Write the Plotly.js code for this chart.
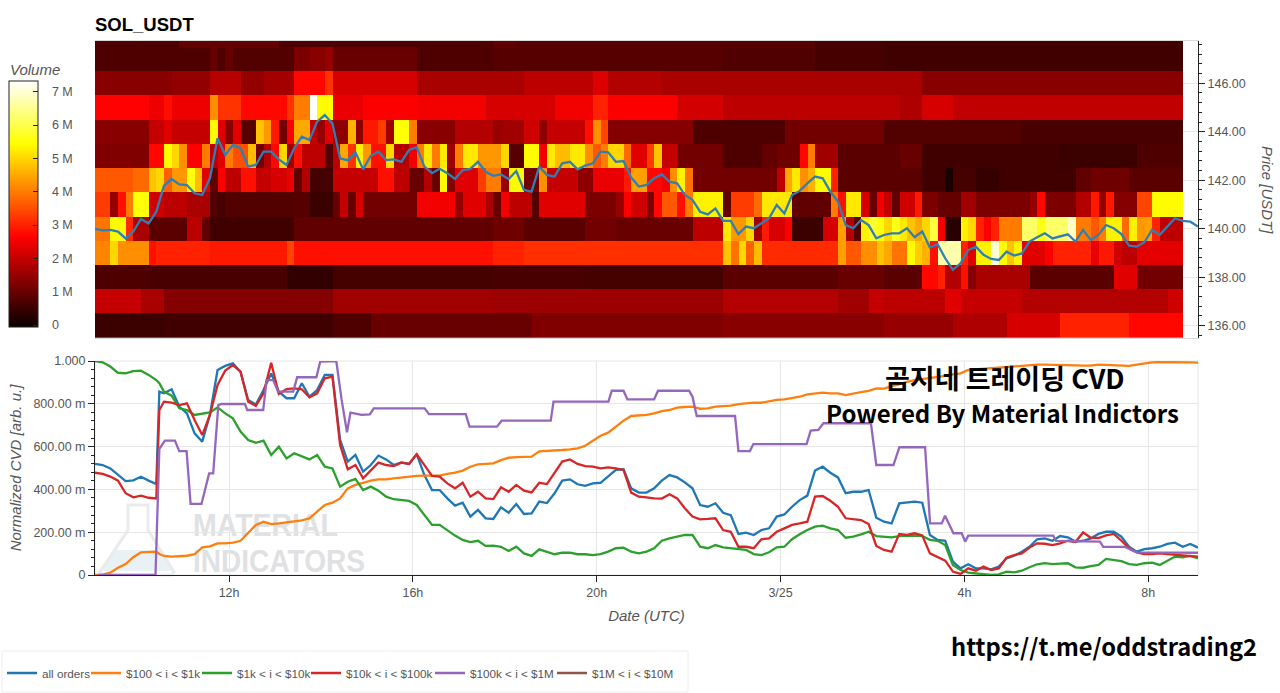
<!DOCTYPE html>
<html><head><meta charset="utf-8">
<script src="https://cdn.plot.ly/plotly-3.0.1.min.js"></script>
<style>html,body{margin:0;padding:0;background:#fff;overflow:hidden}#c{width:1280px;height:693px}</style>
</head><body><div id="c"></div>
<script>
// ---- axis labels ----
const axisDates=['2025-03-24 12:00','2025-03-24 16:00','2025-03-24 20:00','2025-03-25 00:00','2025-03-25 04:00','2025-03-25 08:00'];
const axisDateLabels=['12h','16h','20h','3/25','4h','8h'];
const cvdTicks=[0,0.2,0.4,0.6,0.8,1];
const cvdTickLabels=['0','200.00 m','400.00 m','600.00 m','800.00 m','1.000'];
const priceTicks=[136,138,140,142,144,146];
const priceTickLabels=['136.00','138.00','140.00','142.00','144.00','146.00'];
const volTicks=[0,1,2,3,4,5,6,7];
const volTickLabels=['0','1 M','2 M','3 M','4 M','5 M','6 M','7 M'];
const seriesNames=['all orders','$100 < i < $1k','$1k < i < $10k','$10k < i < $100k','$100k < i < $1M','$1M < i < $10M'];

// ---- heatmap: volume in millions, as [first 10-minute column, value] runs, one list per price level ----
const vol148=[[0,.7],[11,.95],[24,.7],[52,.9],[55,.8],[94,.62],[103,.55]];
const vol147=[[0,.7],[15,.95],[16,.7],[17,.95],[18,.75],[26,1.2],[28,1.35],[30,1.5],[31,1.0],[42,.7],[52,.8],[82,.72],[94,.62],[103,.55]];
const vol146=[[0,1.35],[10,1.45],[15,1.85],[19,1.45],[22,1.65],[26,2.7],[30,3.2],[31,2.2],[42,1.7],[56,1.9],[65,2.25],[67,1.8],[74,1.7],[108,1.35]];
const vol145=[[0,2.65],[7,2.45],[9,2.75],[10,2.45],[15,4.2],[16,3.2],[19,2.7],[25,3.2],[26,4.0],[28,7.3],[29,5.4],[31,2.4],[35,2.6],[42,2.5],[51,2.2],[60,2.5],[65,3.0],[67,2.6],[76,2.15],[82,1.9],[105,1.75],[108,2.2],[112,1.95]];
const vol144=[[0,1.35],[7,2.0],[9,2.3],[10,2.0],[15,5.4],[16,2.3],[17,1.35],[18,2.3],[19,.8],[21,4.8],[22,4.3],[23,2.9],[24,1.1],[25,2.6],[26,4.5],[28,2.0],[29,1.5],[30,2.3],[31,1.4],[33,4.6],[34,1.4],[35,2.9],[37,3.3],[38,1.6],[39,5.5],[41,4.0],[42,1.35],[47,1.8],[52,1.5],[53,1.6],[56,2.1],[58,1.4],[59,2.0],[64,2.8],[65,4.2],[66,3.4],[67,1.3],[78,.7],[90,1.1],[103,.75],[121,.65]];
const vol143=[[0,1.25],[7,2.7],[9,5.4],[10,5.0],[11,4.2],[12,2.6],[14,4.0],[15,1.9],[16,2.3],[17,4.0],[18,3.5],[20,4.7],[21,1.1],[22,1.8],[23,2.7],[24,5.0],[25,1.6],[26,2.8],[27,1.9],[30,.75],[31,1.9],[32,4.5],[33,3.2],[34,5.3],[35,4.3],[36,2.8],[38,5.0],[39,1.8],[41,2.5],[42,4.0],[43,5.2],[44,4.0],[45,5.2],[46,1.6],[47,4.0],[48,5.2],[50,4.3],[53,5.0],[54,.8],[56,5.4],[58,2.5],[59,5.2],[60,4.7],[62,5.2],[64,4.2],[65,3.6],[66,4.0],[67,5.0],[69,3.8],[70,2.3],[72,3.3],[73,4.8],[74,2.0],[76,1.1],[82,.7],[87,.95],[89,1.05],[92,2.7],[93,4.0],[94,1.6],[97,.85],[105,1.0],[108,.55],[126,.5],[136,.7]];
const vol142=[[0,3.6],[5,3.8],[7,4.8],[8,5.0],[9,3.7],[10,4.3],[12,5.5],[13,4.7],[14,2.3],[15,.9],[16,2.6],[17,1.9],[19,2.8],[21,2.0],[23,2.2],[25,2.4],[26,.9],[27,1.8],[28,.6],[31,2.0],[37,2.8],[39,1.9],[41,1.0],[43,1.8],[44,1.0],[45,5.4],[46,1.3],[47,2.3],[50,3.3],[51,4.0],[53,1.5],[54,5.4],[56,1.1],[58,4.2],[59,2.0],[63,1.4],[65,2.4],[69,2.9],[70,4.4],[72,2.7],[74,2.5],[75,4.2],[76,5.3],[77,3.9],[78,1.1],[89,1.9],[90,4.5],[91,5.2],[92,4.2],[93,4.6],[94,5.4],[96,3.0],[97,.85],[108,.55],[111,.15],[112,.6],[115,.45],[118,.55],[128,.9],[130,1.05],[135,.85]];
const vol141=[[0,3.3],[2,1.5],[3,2.8],[4,4.0],[5,5.5],[7,2.1],[9,1.9],[12,1.7],[15,.75],[16,.6],[17,.75],[26,.8],[28,.5],[31,1.0],[32,2.0],[33,1.0],[34,2.2],[35,1.1],[42,2.5],[47,1.5],[48,2.3],[51,1.7],[52,1.0],[53,2.5],[54,1.9],[57,.8],[58,2.3],[64,1.2],[68,1.5],[69,2.6],[70,2.1],[72,1.2],[73,2.7],[74,3.6],[76,2.8],[77,4.0],[78,5.3],[82,.9],[83,3.3],[86,3.8],[87,5.2],[91,.9],[96,4.0],[97,2.8],[98,5.2],[100,2.2],[101,1.0],[102,2.5],[103,2.0],[104,.9],[105,2.1],[107,2.9],[108,1.2],[110,.95],[113,1.6],[115,1.2],[122,1.5],[123,2.7],[124,1.2],[128,1.8],[130,2.9],[131,1.5],[132,2.9],[133,1.3],[136,3.4],[138,5.4]];
const vol140=[[0,3.9],[2,5.4],[4,3.1],[5,1.7],[7,.85],[12,1.9],[14,.9],[15,.55],[26,.9],[52,1.05],[56,.85],[64,1.1],[68,1.0],[78,1.9],[82,5.2],[83,4.3],[85,5.0],[86,1.6],[87,2.9],[88,2.2],[90,2.6],[91,.5],[95,2.2],[97,4.4],[98,1.8],[99,.8],[100,5.3],[101,5.8],[102,5.5],[103,5.0],[104,5.6],[105,5.2],[106,4.8],[107,4.5],[108,5.0],[109,5.9],[110,2.5],[111,.3],[113,5.3],[114,5.0],[115,3.0],[116,2.6],[117,3.0],[118,4.0],[121,6.2],[123,5.6],[124,6.2],[127,6.9],[128,4.0],[130,3.6],[131,4.0],[132,5.3],[134,3.8],[135,5.3],[136,4.3],[137,4.4],[138,3.0],[139,1.9]];
const vol139=[[0,4.1],[2,5.0],[3,4.2],[7,2.8],[8,3.0],[15,2.9],[25,3.4],[26,2.8],[52,3.0],[56,3.15],[82,4.8],[83,3.9],[84,5.0],[85,3.7],[86,4.7],[87,3.1],[97,4.4],[98,3.6],[100,4.2],[102,4.8],[103,4.5],[104,3.9],[106,5.4],[107,4.9],[108,4.6],[109,2.8],[110,6.7],[113,3.0],[114,2.3],[115,5.3],[117,7.0],[118,5.4],[119,4.8],[120,5.3],[121,2.3],[124,2.6],[125,3.0],[130,2.4],[131,2.9],[133,2.1],[134,1.9],[136,2.35]];
const vol138=[[0,.7],[7,.65],[25,.4],[31,.6],[52,.65],[64,.6],[82,.85],[97,1.0],[103,.85],[108,2.7],[110,3.0],[111,1.8],[113,2.8],[114,1.3],[115,1.7],[122,.85],[133,2.3],[136,1.1]];
const vol137=[[0,2.0],[6,1.7],[9,1.3],[31,1.6],[52,1.55],[82,1.8],[97,1.6],[101,2.0],[103,1.9],[111,2.3],[113,2.0],[121,1.8],[140,2.1]];
const vol136=[[0,.5],[9,.55],[31,.7],[36,1.0],[57,1.25],[82,1.35],[103,1.5],[112,1.75],[119,2.2],[126,3.0],[135,2.7]];
const priceLevels=[136,137,138,139,140,141,142,143,144,145,146,147,148];

// ---- price line, every 10 minutes from 09:05 ----
const price=[139.99,139.93,139.95,139.88,139.60,139.88,140.40,140.22,140.70,141.78,
142.05,141.83,141.80,141.46,141.39,142.08,143.73,143.04,143.46,143.32,
142.56,142.63,143.18,143.18,142.86,142.63,143.32,143.80,143.66,144.42,
144.69,144.34,142.90,142.83,143.15,142.45,143.01,143.18,142.83,142.86,
142.76,143.25,143.36,142.56,142.29,142.47,142.29,142.05,142.42,142.47,
142.76,142.35,142.18,142.24,142.05,142.38,141.60,141.53,142.56,142.22,
142.15,142.70,142.76,142.45,142.60,142.70,143.18,143.15,142.76,142.79,
142.11,141.74,141.81,142.08,142.24,141.94,141.87,141.39,141.19,140.70,
140.59,140.84,140.32,140.32,139.78,140.09,140.02,140.22,140.43,140.98,
140.63,141.39,141.56,141.87,142.15,142.08,141.53,141.12,140.15,140.02,
140.36,140.15,139.60,139.74,139.81,139.81,140.02,139.65,139.88,139.22,
139.36,138.78,138.30,138.57,139.12,139.26,138.92,138.75,138.71,139.05,
138.89,138.98,139.47,139.65,139.81,139.60,139.70,139.77,139.47,139.95,
139.54,139.74,140.15,140.02,139.78,139.30,139.26,139.44,139.95,139.74,
140.09,140.43,140.32,140.29,140.09];

// ---- CVD series: slot numbers in tens of minutes from 09:05 ----
const cvdSlots=[0,1,2,3,4,5,6,7,8,8.4];
for(let s=9;s<=144;s++)cvdSlots.push(s);
const allOrders=[.519,.514,.498,.467,.439,.442,.459,.441,.425,.857,
.849,.868,.787,.755,.662,.623,.748,.958,.977,.989,
.950,.818,.797,.864,.942,.857,.826,.826,.896,.833,
.864,.935,.935,.631,.53,.561,.483,.514,.558,.54,
.514,.526,.519,.565,.467,.397,.397,.358,.324,.338,
.273,.304,.265,.262,.316,.291,.332,.285,.288,.343,
.336,.382,.441,.447,.424,.417,.428,.431,.46,.491,
.494,.405,.385,.385,.405,.441,.467,.456,.433,.405,
.327,.319,.335,.291,.28,.192,.198,.187,.21,.218,
.273,.283,.319,.35,.371,.488,.506,.478,.456,.382,
.389,.389,.397,.268,.249,.241,.335,.338,.343,.338,
.187,.164,.16,.062,.031,.05,.031,.031,.026,.039,
.078,.09,.109,.132,.167,.171,.16,.182,.176,.156,
.16,.171,.192,.202,.202,.179,.132,.109,.121,.125,
.132,.145,.151,.132,.145,.128];
const range100to1k=[0,.002,.011,.034,.051,.083,.106,.109,.109,.098,
.089,.086,.087,.09,.097,.129,.134,.148,.148,.151,
.16,.195,.234,.249,.238,.241,.246,.251,.255,.265,
.296,.327,.338,.358,.405,.421,.431,.441,.447,.447,
.452,.456,.46,.463,.464,.463,.464,.472,.478,.488,
.506,.517,.519,.522,.537,.548,.551,.553,.553,.578,
.579,.581,.584,.587,.592,.604,.628,.651,.665,.693,
.721,.743,.746,.748,.755,.766,.771,.782,.785,.787,
.777,.779,.787,.79,.791,.798,.802,.805,.805,.813,
.818,.821,.826,.833,.844,.849,.852,.849,.849,.841,
.849,.854,.86,.872,.871,.883,.891,.903,.911,.916,
.919,.924,.93,.938,.942,.958,.961,.964,.967,.969,
.974,.977,.978,.98,.983,.983,.983,.983,.981,.98,
.978,.978,.983,.981,.978,.977,.977,.983,.989,.994,
.995,.995,.997,.997,.994,.992];
const range1kto10k=[1.0,.994,.974,.945,.942,.953,.955,.935,.911,.896,
.857,.838,.779,.771,.748,.755,.76,.783,.755,.732,
.67,.631,.618,.628,.561,.6,.545,.569,.553,.54,
.561,.506,.498,.413,.436,.449,.397,.413,.394,.366,
.354,.35,.346,.327,.28,.234,.234,.207,.184,.164,
.154,.16,.136,.137,.132,.112,.132,.101,.089,.12,
.109,.097,.104,.104,.097,.097,.093,.098,.109,.125,
.128,.109,.101,.109,.125,.16,.171,.179,.187,.187,
.132,.125,.14,.129,.125,.12,.117,.098,.093,.106,
.129,.132,.167,.19,.21,.226,.231,.218,.21,.174,
.179,.19,.202,.182,.178,.176,.182,.184,.184,.182,
.164,.16,.14,.047,.023,.011,.008,.003,0,.003,
.016,.012,.02,.036,.05,.055,.051,.053,.055,.036,
.034,.042,.047,.075,.07,.065,.051,.047,.055,.058,
.047,.067,.086,.083,.089,.078];
const range10kto100k=[.478,.472,.46,.441,.382,.363,.371,.361,.358,.771,
.81,.805,.794,.802,.724,.654,.748,.888,.955,.981,
.95,.81,.79,.849,.992,.846,.869,.872,.868,.83,
.849,.919,.927,.607,.494,.514,.452,.491,.525,.514,
.509,.525,.519,.565,.514,.463,.46,.428,.405,.431,
.366,.389,.358,.355,.41,.389,.421,.394,.386,.431,
.425,.475,.53,.54,.519,.509,.506,.498,.503,.498,
.491,.385,.366,.363,.358,.357,.377,.358,.312,.273,
.26,.262,.265,.21,.202,.132,.132,.125,.167,.171,
.202,.218,.234,.241,.249,.366,.369,.347,.319,.265,
.26,.257,.238,.136,.117,.109,.192,.187,.195,.185,
.101,.083,.067,.016,.005,.031,.02,.039,.023,.031,
.081,.093,.101,.128,.148,.146,.14,.148,.16,.154,
.199,.174,.173,.185,.192,.16,.125,.106,.098,.098,
.101,.098,.095,.095,.09,.086];
// step-like series, read at its own corners
const slots100kto1M=[.4,7.9,8.4,9.13,10.43,11,11.96,12.48,13.9,14.9,15.43,16.1,16.5,19.57,19.87,21.96,22.4,23.26,23.9,25.87,26.4,28.9,29.4,31.5,32.2,32.9,33.35,34.8,35.87,36.4,43.04,43.6,48.4,48.9,52.47,53.1,59.5,59.86,67.03,67.47,69,69.5,73,73.5,77.56,78,78.56,83.56,84,85.5,85.95,92.9,93.43,94.43,95.1,101.3,102,104.24,105.02,108.37,109.02,110.54,110.98,112.07,113.15,113.6,114,125.1,125.46,131.2,131.63,134.46,136,144];
const range100kto1M=[0,0,.589,.628,.628,.579,.579,.332,.332,.475,.475,.794,.799,.799,.771,.771,.911,.911,.857,.857,.924,.924,.997,1.0,.818,.667,.759,.748,.751,.779,.779,.752,.752,.693,.693,.721,.721,.81,.81,.861,.861,.821,.821,.861,.861,.833,.743,.743,.579,.579,.612,.612,.675,.678,.709,.709,.514,.514,.597,.597,.241,.241,.277,.195,.195,.156,.184,.184,.159,.156,.131,.131,.106,.104];

// ---- helpers: turn the lists above into what the traces need ----
const NCOLS=142;
function expand(runs){const out=[];for(let k=0;k<runs.length;k++){const end=k+1<runs.length?runs[k+1][0]:NCOLS;for(let c=runs[k][0];c<end;c++)out.push(runs[k][1]);}return out;}
function dateAt(minutes){return new Date(Date.UTC(2025,2,24,9,5)+minutes*60000).toISOString().replace('T',' ').slice(0,19);}
const slotDates=a=>a.map(s=>dateAt(s*10));
const columnDates=[];for(let c=0;c<NCOLS;c++)columnDates.push(dateAt(10*c+5));
const priceDates=price.map((_,i)=>dateAt(i*10));
const volume=[vol136,vol137,vol138,vol139,vol140,vol141,vol142,vol143,vol144,vol145,vol146,vol147,vol148].map(expand);
const start=dateAt(0),stop=dateAt(1440);

const colors=['#1f77b4','#ff7f0e','#2ca02c','#d62728','#9467bd','#8c564b'];
const W=1280,H=693,px=x=>x/W,py=y=>1-y/H;
const sans='"Liberation Sans",Arial,sans-serif';
const hot=[[0,'rgb(8,0,0)'],[0.365,'rgb(255,0,0)'],[0.746,'rgb(255,255,0)'],[1,'rgb(255,255,255)']];
const lineW=2.3;

const traces=[
 {type:'heatmap',x:columnDates,y:priceLevels,z:volume,xaxis:'x',yaxis:'y',zmin:-0.06,zmax:7.32,colorscale:hot,zsmooth:false,showscale:true,hoverinfo:'skip',
  colorbar:{thicknessmode:'pixels',thickness:29,lenmode:'pixels',len:246,x:px(9),xanchor:'left',xpad:0,y:py(327),yanchor:'bottom',ypad:0,
   outlinecolor:'#222',outlinewidth:1,ticks:'inside',ticklen:5,tickcolor:'#222',tickvals:volTicks,ticktext:volTickLabels.map(t=>'\u00a0\u00a0\u00a0'+t),tickfont:{family:sans,size:12.5,color:'#555'}}},
 {type:'scatter',mode:'lines',x:priceDates,y:price,xaxis:'x',yaxis:'y',line:{color:'#2f7fb5',width:lineW},showlegend:false,hoverinfo:'skip'},
 {type:'scatter',mode:'lines',name:seriesNames[0],legend:'legend',x:slotDates(cvdSlots),y:allOrders,xaxis:'x2',yaxis:'y2',line:{color:colors[0],width:lineW}},
 {type:'scatter',mode:'lines',name:seriesNames[1],legend:'legend2',x:slotDates(cvdSlots),y:range100to1k,xaxis:'x2',yaxis:'y2',line:{color:colors[1],width:lineW}},
 {type:'scatter',mode:'lines',name:seriesNames[2],legend:'legend3',x:slotDates(cvdSlots),y:range1kto10k,xaxis:'x2',yaxis:'y2',line:{color:colors[2],width:lineW}},
 {type:'scatter',mode:'lines',name:seriesNames[3],legend:'legend4',x:slotDates(cvdSlots),y:range10kto100k,xaxis:'x2',yaxis:'y2',line:{color:colors[3],width:lineW}},
 {type:'scatter',mode:'lines',name:seriesNames[4],legend:'legend5',x:slotDates(slots100kto1M),y:range100kto1M,xaxis:'x2',yaxis:'y2',line:{color:colors[4],width:lineW}},
 {type:'scatter',mode:'lines',name:seriesNames[5],legend:'legend6',x:[null],y:[null],xaxis:'x2',yaxis:'y2',line:{color:colors[5],width:lineW}}
];

const P=p=>p.map(([c,x,y])=>c==='Z'?'Z':c+' '+px(x)+' '+py(y)).join(' ');
const flask=P([['M',128,505],['L',148,505],['L',148,530],['L',174,572],['L',172,575],['L',102,575],['L',100,572],['L',128,530],['Z']]);
const flaskFill=P([['M',114,550],['L',162,550],['L',172,571],['L',103,571],['Z']]);
const legendAt=x=>({x:px(x),xanchor:'left',y:py(673),yanchor:'middle',bgcolor:'rgba(0,0,0,0)',borderwidth:0,font:{family:sans,size:11.7,color:'#555'},itemwidth:30});
const wmFont={family:sans,size:31,color:'#dfe1e3',weight:'bold'};

const layout={
 width:W,height:H,margin:{l:0,r:0,t:0,b:0,autoexpand:false},paper_bgcolor:'#fff',plot_bgcolor:'#fff',
 font:{family:sans,size:12,color:'#444'},
 title:{text:'<b>SOL_USDT</b>',x:px(95),xref:'paper',xanchor:'left',y:py(25),yref:'paper',yanchor:'middle',font:{family:sans,size:18.5,color:'#000'}},
 xaxis:{type:'date',domain:[px(95),px(1198)],anchor:'y',range:[start,stop],showticklabels:false,ticks:'',showgrid:false,showline:true,mirror:true,linecolor:'#d8d8d8',linewidth:1,zeroline:false},
 yaxis:{domain:[py(338),py(41)],anchor:'x',side:'right',range:[135.49,147.745],tickvals:priceTicks,ticktext:priceTickLabels,ticks:'outside',ticklen:6,tickcolor:'#222',
  tickfont:{family:sans,size:12.5,color:'#555'},showline:true,linecolor:'#222',linewidth:1,showgrid:true,gridcolor:'#e8e8e8',zeroline:false,
  minor:{dtick:0.4,tick0:136,ticks:'outside',ticklen:3,tickcolor:'#222',showgrid:false}},
 xaxis2:{type:'date',domain:[px(95),px(1198)],anchor:'y2',range:[start,stop],tickvals:axisDates,ticktext:axisDateLabels,ticks:'outside',ticklen:6,tickcolor:'#222',
  tickfont:{family:sans,size:12.5,color:'#555'},showline:true,linecolor:'#222',linewidth:1,showgrid:true,gridcolor:'#e6e6e6',zeroline:false,
  title:{text:'<i>Date (UTC)</i>',font:{family:sans,size:15,color:'#555'},standoff:11}},
 yaxis2:{domain:[py(575),py(361)],anchor:'x2',range:[0,1],tickvals:cvdTicks,ticktext:cvdTickLabels,ticks:'outside',ticklen:6,tickcolor:'#222',
  tickfont:{family:sans,size:12.5,color:'#555'},showline:true,linecolor:'#222',linewidth:1,showgrid:true,gridcolor:'#e6e6e6',zeroline:false,
  minor:{dtick:0.04,tick0:0,ticks:'outside',ticklen:3,tickcolor:'#222',showgrid:false},
  title:{text:'<i>Normalized CVD [arb. u.]</i>',font:{family:sans,size:15,color:'#555'},standoff:8}},
 showlegend:true,
 legend:legendAt(2),legend2:legendAt(86),legend3:legendAt(197),legend4:legendAt(306),legend5:legendAt(430),legend6:legendAt(552),
 shapes:[
  {type:'path',xref:'paper',yref:'paper',layer:'below',path:flaskFill,fillcolor:'#e9f1f5',line:{width:0}},
  {type:'path',xref:'paper',yref:'paper',layer:'below',path:flask,fillcolor:'rgba(0,0,0,0)',line:{color:'#e9ebed',width:3}},
  {type:'rect',xref:'paper',yref:'paper',layer:'below',x0:px(187),x1:px(340),y0:py(540),y1:py(504),line:{width:0},fillcolor:'rgba(0,0,0,0)',
   label:{text:'MATERIAL',textposition:'middle left',font:wmFont}},
  {type:'rect',xref:'paper',yref:'paper',layer:'below',x0:px(187),x1:px(366),y0:py(576),y1:py(540),line:{width:0},fillcolor:'rgba(0,0,0,0)',
   label:{text:'INDICATORS',textposition:'middle left',font:wmFont}},
  {type:'rect',xref:'paper',yref:'paper',layer:'below',x0:px(95),x1:px(1198),y0:py(575),y1:py(361),line:{color:'#e6e6e6',width:1},fillcolor:'rgba(0,0,0,0)'},
  {type:'rect',xref:'paper',yref:'paper',layer:'below',x0:px(2),x1:px(688),y0:py(692),y1:py(651),line:{color:'#eeeeee',width:1},fillcolor:'rgba(0,0,0,0)'}
 ],
 annotations:[
  {text:'<i>Volume</i>',xref:'paper',yref:'paper',x:px(8),y:py(70),xanchor:'left',yanchor:'middle',showarrow:false,font:{family:sans,size:15,color:'#555'}},
  {text:'<i>Price [USDT]</i>',xref:'paper',yref:'paper',x:px(1268),y:py(190),xanchor:'center',yanchor:'middle',textangle:90,showarrow:false,font:{family:sans,size:15,color:'#555'}},
  {text:'<b>곰지네 트레이딩 CVD</b>',xref:'paper',yref:'paper',x:px(1005),y:py(377),xanchor:'center',yanchor:'middle',showarrow:false,font:{family:'"Noto Sans CJK KR"',size:27,color:'#000'}},
  {text:'<b>Powered By Material Indictors</b>',xref:'paper',yref:'paper',x:px(1002),y:py(412),xanchor:'center',yanchor:'middle',showarrow:false,font:{family:'"Noto Sans CJK KR"',size:24,color:'#000'}},
  {text:'<b>https://t.me/oddstrading2</b>',xref:'paper',yref:'paper',x:px(1104),y:py(646),xanchor:'center',yanchor:'middle',showarrow:false,font:{family:'"Noto Sans CJK KR"',size:23.7,color:'#000'}}
 ]
};
Plotly.newPlot('c',traces,layout,{displayModeBar:false,staticPlot:true}).then(()=>{
 // the watermark's typeface is condensed: fit the two words to the width they have in the picture
 const widths={MATERIAL:145,INDICATORS:172};
 document.querySelectorAll('#c text').forEach(t=>{const w=widths[t.textContent];if(w){t.setAttribute('textLength',w);t.setAttribute('lengthAdjust','spacingAndGlyphs');}});
});
</script></body></html>
